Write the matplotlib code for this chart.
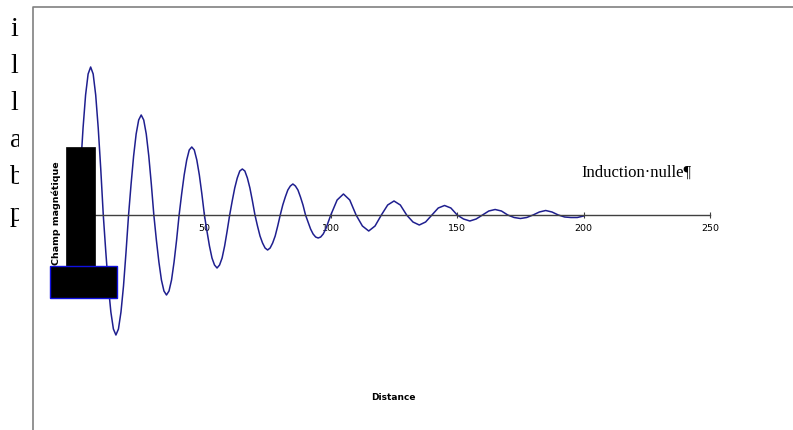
import matplotlib.pyplot as plt
from matplotlib.patches import Rectangle
from matplotlib.lines import Line2D
from matplotlib.transforms import Bbox, TransformedBbox

# distance (x) and field values
distance = [0, 1, 2, 3, 4, 5, 6, 7, 8, 9,
            10, 11, 12, 13, 14, 15, 16, 17, 18, 19,
            20, 21, 22, 23, 24, 25, 26, 27, 28, 29,
            30, 31, 32, 33, 34, 35, 36, 37, 38, 39,
            40, 41, 42, 43, 44, 45, 46, 47, 48, 49,
            50, 51, 52, 53, 54, 55, 56, 57, 58, 59,
            60, 61, 62, 63, 64, 65, 66, 67, 68, 69,
            70, 71, 72, 73, 74, 75, 76, 77, 78, 79,
            80, 81, 82, 83, 84, 85, 86, 87, 88, 89,
            90, 91, 92, 93, 94, 95, 96, 97, 98, 99,
            100, 102.5, 105, 107.5, 110, 112.5, 115, 117.5, 120, 122.5,
            125, 127.5, 130, 132.5, 135, 137.5, 140, 142.5, 145, 147.5,
            150, 152.5, 155, 157.5, 160, 162.5, 165, 167.5, 170, 172.5,
            175, 177.5, 180, 182.5, 185, 187.5, 190, 192.5, 195, 197.5, 200]
champ = [0, 46, 87, 120, 141, 148, 141, 120, 87, 46,
         0, -37, -71, -97, -114, -120, -114, -97, -71, -37,
         0, 31, 59, 81, 95, 100, 95, 81, 59, 31,
         0, -25, -47, -65, -76, -80, -76, -65, -47, -25,
         0, 21, 40, 55, 65, 68, 65, 55, 40, 21,
         0, -16, -31, -43, -50, -53, -50, -43, -31, -16,
         0, 14, 27, 37, 44, 46, 44, 37, 27, 14,
         0, -11, -21, -28, -33, -35, -33, -28, -21, -11,
         0, 10, 18, 25, 29, 31, 29, 25, 18, 10,
         0, -7, -14, -19, -22, -23, -22, -19, -14, -7,
         0, 15, 21, 15, 0, -11, -16, -11, 0, 10,
         14, 10, 0, -7, -10, -7, 0, 7, 9.5, 7,
         0, -4, -6, -4, 0, 4, 5.5, 4, 0, -2.5,
         -3.5, -2.5, 0, 3, 4.5, 3, 0, -2, -2.5, -2.5, -1]

xticks = [50, 100, 150, 200, 250]
side_letters = ['i', 'l', 'l', 'a', 'b', 'p']

W, H = 793, 430
fig = plt.figure(figsize=(W / 100, H / 100), dpi=100)
ax = fig.add_axes([0, 0, 1, 1])
ax.patch.set_alpha(0)

# pixel -> figure fraction helper
def fx(px):
    return px / W

def fy(py):
    return 1 - py / H

ax.plot(distance, champ, color='#1f1f8f', lw=1.1, zorder=2)

ax.set_xlim(-78 / 2.528, (W - 78) / 2.528)
ax.set_ylim(-215, 215)
for s in ['top', 'left', 'right']:
    ax.spines[s].set_visible(False)
ax.spines['bottom'].set_position(('data', 0))
ax.spines['bottom'].set_bounds(0, 250)
ax.spines['bottom'].set_color('#404040')
ax.spines['bottom'].set_linewidth(1.0)
ax.set_yticks([])
ax.set_xticks(xticks)
ax.set_xticklabels([str(t) for t in xticks])
ax.tick_params(axis='x', direction='inout', length=4, width=0.8,
               color='#404040', labelsize=6.8, pad=4.5)

# black blocks covering the start of the curve
fig.add_artist(Rectangle((fx(66), fy(266)), fx(95) - fx(66), fy(147) - fy(266),
                         transform=fig.transFigure, facecolor='black',
                         edgecolor='black', lw=0.5, zorder=3))
fig.add_artist(Rectangle((fx(50), fy(298)), fx(117) - fx(50), fy(266) - fy(298),
                         transform=fig.transFigure, facecolor='black',
                         edgecolor='#1010e0', lw=1.0, zorder=3))

# frame lines (top and left)
fig.add_artist(Line2D([fx(33), fx(33), fx(793)], [0, fy(7), fy(7)],
                      transform=fig.transFigure, color='#808080', lw=1.2))

fig.text(fx(56), fy(213), 'Champ magnétique', rotation=90, ha='center',
         va='center', fontsize=6.8, fontweight='bold', zorder=4)
fig.text(fx(393), fy(397), 'Distance', ha='center', va='center',
         fontsize=6.5, fontweight='bold')
fig.text(fx(636), fy(173), 'Induction·nulle¶', ha='center', va='center',
         fontsize=12, family='Liberation Serif')

# clipped letters on the left edge
clip = TransformedBbox(Bbox([[0, 0], [fx(19), 1]]), fig.transFigure)
for i, ch in enumerate(side_letters):
    t = fig.text(fx(10), fy(36 + 37 * i), ch, ha='left', va='baseline',
                 fontsize=20, family='Liberation Serif')
    t.set_clip_box(clip)
    t.set_clip_on(True)

fig.savefig('out.png', dpi=100)
